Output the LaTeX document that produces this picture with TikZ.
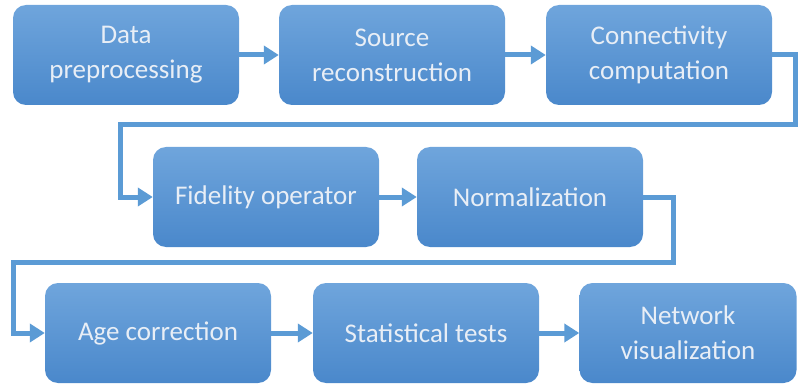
\documentclass[tikz,border=0pt]{standalone}
\usepackage{fontspec}
\setmainfont{Carlito}
\usetikzlibrary{arrows.meta}
\definecolor{boxtop}{HTML}{6FA5DC}
\definecolor{boxbot}{HTML}{4A88CB}
\definecolor{flowblue}{HTML}{5B9BD5}
\definecolor{boxtext}{HTML}{E8EEF6}

\begin{document}
\begin{tikzpicture}[x=1pt,y=-1pt]
      \tikzset{>={Triangle[length=15pt,width=18pt]}}
      \tikzset{stage/.style={rectangle,rounded corners=13pt,minimum width=226pt,minimum height=100pt,
          top color=boxtop,bottom color=boxbot,draw=none,text=boxtext,align=center,
          font=\fontsize{27}{35}\selectfont}}
      \tikzset{flow/.style={draw=flowblue,line width=5pt}}
      \useasboundingbox (0,0) rectangle (798,385);

      \node[stage](A) at (126,55) {Data\\preprocessing};
      \node[stage](B) at (392,55) {Source\\reconstruction};
      \node[stage](C) at (659,55) {Connectivity\\computation};
      \node[stage](D) at (266,197) {Fidelity operator};
      \node[stage](E) at (530,197) {Normalization};
      \node[stage](G) at (158,333) {Age correction};
      \node[stage](H) at (426,333) {Statistical tests};
      \node[stage,minimum width=217pt](I) at (688,333) {Network\\visualization};

      \coordinate (k1) at (795,125);
      \coordinate (k2) at (120,125);
      \coordinate (k3) at (673,262);
      \coordinate (k4) at (13,262);

      \draw [flow,->] (A) -- (B);
      \draw [flow,->] (B) -- (C);
      \draw [flow,->] (C.east) -| (k1) -- (k2) |- (D.west);
      \draw [flow,->] (D) -- (E);
      \draw [flow,->] (E.east) -| (k3) -- (k4) |- (G.west);
      \draw [flow,->] (G) -- (H);
      \draw [flow,->] (H) -- (I);
    \end{tikzpicture}
\end{document}
